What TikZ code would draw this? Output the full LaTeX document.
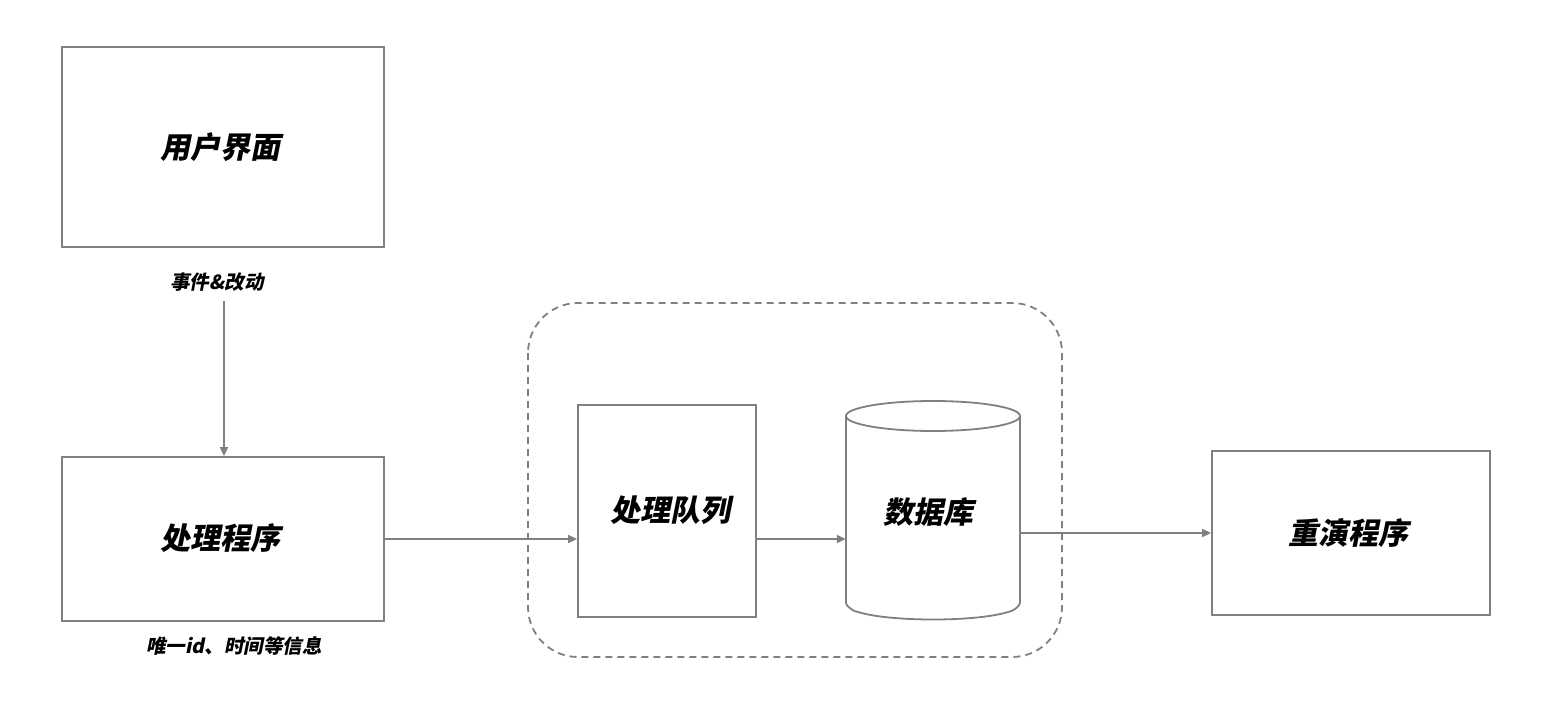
\documentclass[tikz,border=0pt]{standalone}
\usepackage{fontspec}
\newfontfamily\cjk[FakeSlant=0.2]{Noto Sans CJK SC}
\usetikzlibrary{arrows.meta}
\definecolor{ln}{HTML}{808080}
\tikzset{
  box/.style={draw=ln, line width=1.8pt, rectangle, inner sep=0pt},
  big/.style={font=\cjk\bfseries\fontsize{30}{32}\selectfont},
  small/.style={font=\cjk\bfseries\fontsize{19.5}{21}\selectfont},
  conn/.style={draw=ln, line width=1.8pt, -{Triangle[length=9pt,width=8pt]}},
}
\begin{document}
\begin{tikzpicture}[x=1pt,y=-1pt]
\useasboundingbox (0,0) rectangle (1544,722);
\fill[white] (0,0) rectangle (1544,722);
% dashed group
\draw[ln, line width=1.8pt, dash pattern=on 7pt off 5pt, rounded corners=50pt] (528,303) rectangle (1062,657);
% boxes
\node[box, minimum width=322pt, minimum height=200pt] (ui) at (223,147) {};
\node[big] at (220,147) {用户界面};
\node[box, minimum width=322pt, minimum height=164pt] (pp) at (223,539) {};
\node[big] at (220,538) {处理程序};
\node[box, minimum width=178pt, minimum height=212pt] (qu) at (667,511) {};
\node[big] at (670,510) {处理队列};
\node[box, minimum width=278pt, minimum height=164pt] (rp) at (1351,533) {};
\node[big] at (1348,533) {重演程序};
% database cylinder
\node[inner sep=0pt, minimum width=174pt, minimum height=219pt] (db) at (933,510.5) {};
\draw[ln, line width=1.8pt, fill=white]
  (846,416) -- (846,603) to[out=-90,in=180,looseness=0.6] (858,612)
  .. controls (890,622) and (976,622) .. (1008,612)
  to[out=0,in=-90,looseness=0.6] (1020,603) -- (1020,416);
\draw[ln, line width=1.8pt] (933,416) ellipse (87pt and 15pt);
\node[big] at (928,512) {数据库};
% labels
\node[small] (l1) at (217,282) {事件\&改动};
\node[small] (l2) at (234,646) {唯一id、时间等信息};
% connectors
\coordinate (s1) at (224,301);
\draw[conn] (s1) -- (s1 |- pp.north);
\draw[conn] (pp.east) -- (pp.east -| qu.west);
\draw[conn] (pp.east -| qu.east) -- (pp.east -| db.west);
\draw[conn] (rp.west -| db.east) -- (rp.west);
\end{tikzpicture}
\end{document}
